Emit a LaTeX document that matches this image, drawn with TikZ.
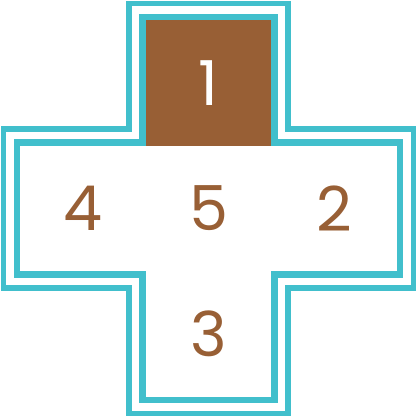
\documentclass[tikz,border=0pt]{standalone}
\usepackage{fontspec}
\setmainfont{Poppins}
\definecolor{teal1}{HTML}{41BFCC}
\definecolor{brown1}{HTML}{985F35}
\begin{document}
\begin{tikzpicture}[x=1pt,y=-1pt,
  innerline/.style={draw=teal1,line width=6.4pt,miter limit=10},
  outerline/.style={draw=teal1,line width=5.7pt,miter limit=10},
  digit/.style={inner sep=0pt,text=brown1,font=\fontsize{62}{62}\selectfont}]
\useasboundingbox (0,0) rectangle (417,417);
\def\a{20.25}\def\b{145.75}\def\c{271.25}\def\d{396.75}
% brown cell
\fill[brown1] (\b,\a) rectangle (\c,\b);
% inner outline
\def\e{3.2}
\path[innerline] ({\b-\e},{\a-\e}) -- ({\c+\e},{\a-\e}) -- ({\c+\e},{\b-\e}) -- ({\d+\e},{\b-\e}) -- ({\d+\e},{\c+\e}) -- ({\c+\e},{\c+\e}) -- ({\c+\e},{\d+\e}) -- ({\b-\e},{\d+\e}) -- ({\b-\e},{\c+\e}) -- ({\a-\e},{\c+\e}) -- ({\a-\e},{\b-\e}) -- ({\b-\e},{\b-\e}) -- cycle;
% outer outline
\def\e{16.85}
\path[outerline] ({\b-\e},{\a-\e}) -- ({\c+\e},{\a-\e}) -- ({\c+\e},{\b-\e}) -- ({\d+\e},{\b-\e}) -- ({\d+\e},{\c+\e}) -- ({\c+\e},{\c+\e}) -- ({\c+\e},{\d+\e}) -- ({\b-\e},{\d+\e}) -- ({\b-\e},{\c+\e}) -- ({\a-\e},{\c+\e}) -- ({\a-\e},{\b-\e}) -- ({\b-\e},{\b-\e}) -- cycle;
% digits
\node[digit,text=white] (n1) at (208.5,83) {1};
\node[digit] (n2) at (334,208.5) {2};
\node[digit] (n3) at (208.5,334) {3};
\node[digit] (n4) at (83,208.5) {4};
\node[digit] (n5) at (208.5,208.5) {5};
\end{tikzpicture}
\end{document}
